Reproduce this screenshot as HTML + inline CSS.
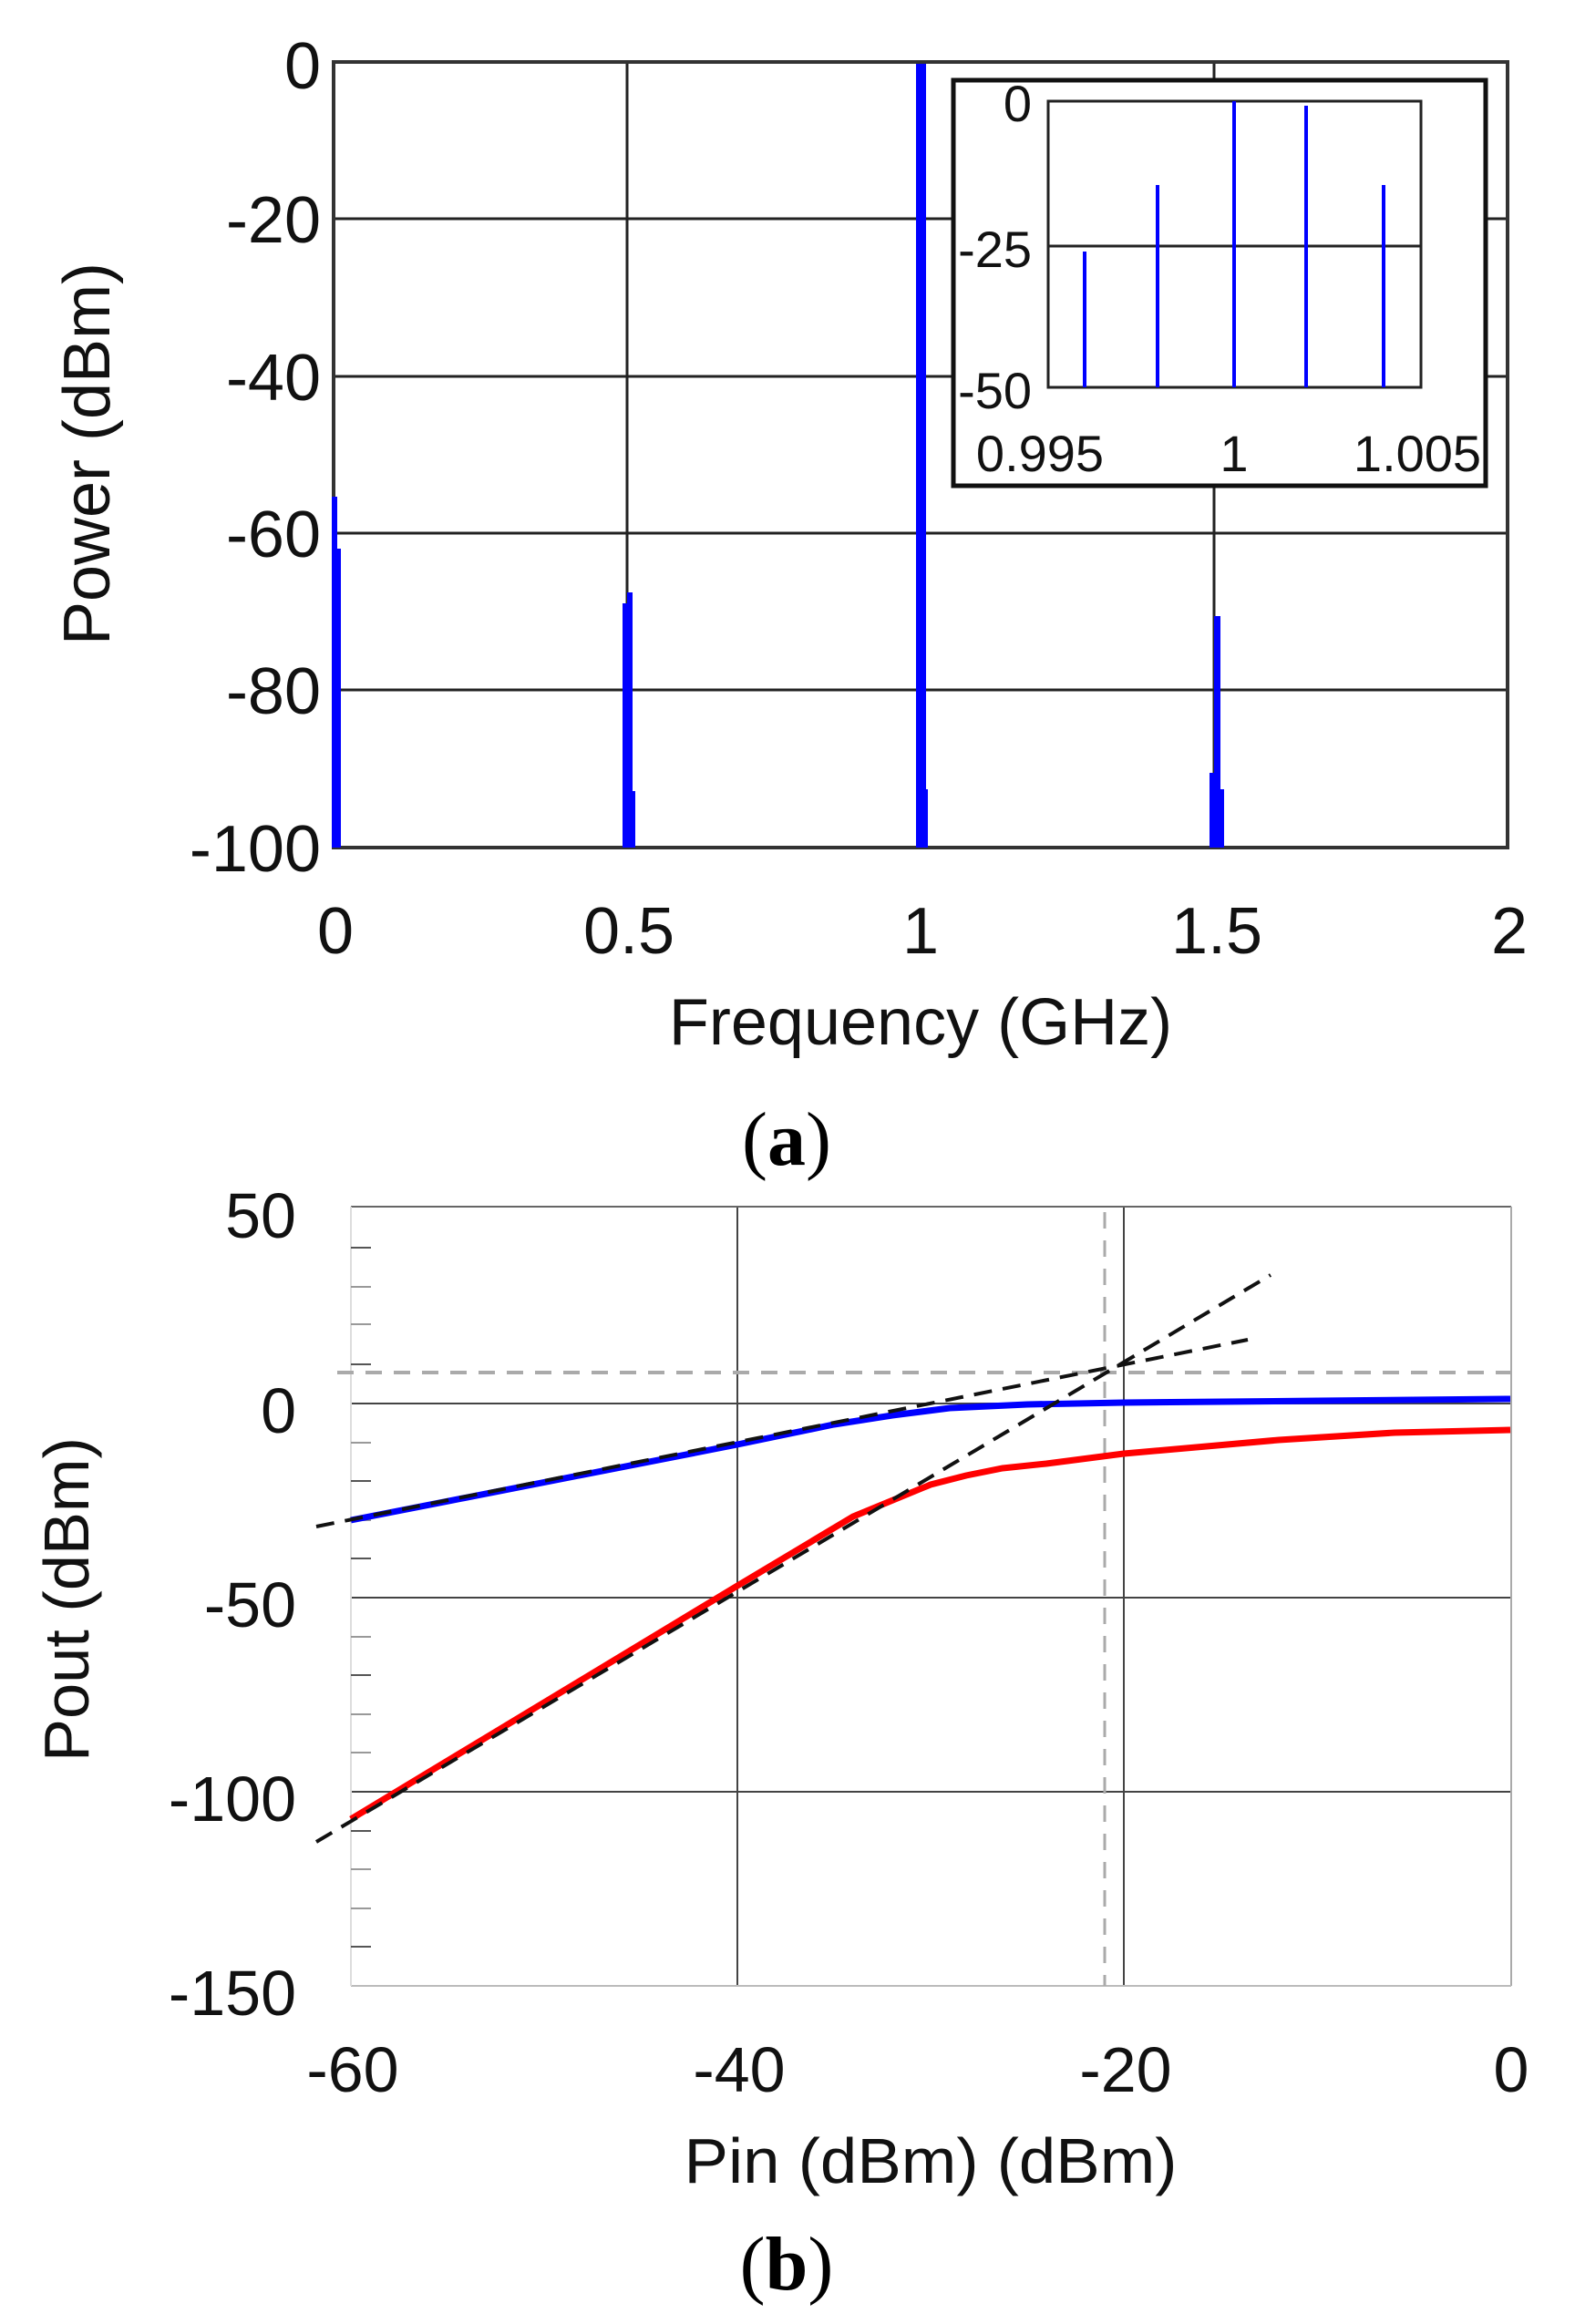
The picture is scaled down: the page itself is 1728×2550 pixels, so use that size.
<!DOCTYPE html>
<html><head><meta charset="utf-8"><style>html,body{margin:0;padding:0;background:#fff}svg{display:block}</style></head>
<body>
<svg width="1728" height="2550" viewBox="0 0 1728 2550" xmlns="http://www.w3.org/2000/svg" font-family="Liberation Sans, Arial, sans-serif">
<rect width="1728" height="2550" fill="#fff"/>
<!-- ===== Plot (a) ===== -->
<g stroke="#222" stroke-width="3" fill="none">
<line x1="688" y1="68" x2="688" y2="930"/>
<line x1="1010" y1="68" x2="1010" y2="930"/>
<line x1="1332" y1="68" x2="1332" y2="930"/>
<line x1="366" y1="240" x2="1654" y2="240"/>
<line x1="366" y1="413" x2="1654" y2="413"/>
<line x1="366" y1="585" x2="1654" y2="585"/>
<line x1="366" y1="757" x2="1654" y2="757"/>
</g>
<rect x="366" y="68" width="1288" height="862" fill="none" stroke="#333" stroke-width="4"/>
<g fill="#0000ff">
<rect x="364" y="545" width="6" height="385"/>
<rect x="368" y="602" width="6" height="328"/>
<rect x="683" y="662" width="7" height="268"/>
<rect x="688" y="650" width="6" height="280"/>
<rect x="690" y="868" width="7" height="62"/>
<rect x="1005" y="70" width="11" height="860"/>
<rect x="1012" y="866" width="6" height="64"/>
<rect x="1327" y="848" width="6" height="82"/>
<rect x="1332" y="676" width="7" height="254"/>
<rect x="1336" y="866" width="7" height="64"/>
</g>
<g font-size="72" fill="#111" text-anchor="end">
<text x="352" y="97">0</text>
<text x="352" y="266">-20</text>
<text x="352" y="439">-40</text>
<text x="352" y="611">-60</text>
<text x="352" y="783">-80</text>
<text x="352" y="956">-100</text>
</g>
<g font-size="72" fill="#111" text-anchor="middle">
<text x="368" y="1046">0</text>
<text x="690" y="1046">0.5</text>
<text x="1010" y="1046">1</text>
<text x="1335" y="1046">1.5</text>
<text x="1656" y="1046">2</text>
<text x="1010" y="1146">Frequency (GHz)</text>
<text transform="translate(120,498) rotate(-90)">Power (dBm)</text>
</g>
<!-- inset -->
<rect x="1046" y="88" width="584" height="445" fill="#fff" stroke="#111" stroke-width="5"/>
<line x1="1150" y1="270" x2="1559" y2="270" stroke="#222" stroke-width="3"/>
<rect x="1150" y="111" width="409" height="314" fill="none" stroke="#222" stroke-width="3"/>
<g stroke="#0000ff" stroke-width="4">
<line x1="1190" y1="276" x2="1190" y2="425"/>
<line x1="1270" y1="203" x2="1270" y2="425"/>
<line x1="1354" y1="111" x2="1354" y2="425"/>
<line x1="1433" y1="116" x2="1433" y2="425"/>
<line x1="1518" y1="203" x2="1518" y2="425"/>
</g>
<g font-size="56" fill="#111" text-anchor="end">
<text x="1132" y="133">0</text>
<text x="1132" y="293">-25</text>
<text x="1132" y="448">-50</text>
</g>
<g font-size="56" fill="#111" text-anchor="middle">
<text x="1141" y="517">0.995</text>
<text x="1354" y="517">1</text>
<text x="1555" y="517">1.005</text>
</g>
<text x="863" y="1278" font-family="Liberation Serif, serif" font-size="84" text-anchor="middle" fill="#000">(<tspan font-weight="bold">a</tspan>)</text>

<!-- ===== Plot (b) ===== -->
<g stroke="#444" stroke-width="2" fill="none">
<line x1="809" y1="1324" x2="809" y2="2179"/>
<line x1="1233" y1="1324" x2="1233" y2="2179"/>
<line x1="385" y1="1540" x2="1658" y2="1540"/>
<line x1="385" y1="1753" x2="1658" y2="1753"/>
<line x1="385" y1="1966" x2="1658" y2="1966"/>
</g>
<line x1="385" y1="1324" x2="1658" y2="1324" stroke="#666" stroke-width="2"/>
<line x1="1658" y1="1324" x2="1658" y2="2179" stroke="#aaa" stroke-width="2"/>
<line x1="385" y1="2179" x2="1658" y2="2179" stroke="#bbb" stroke-width="2"/>
<line x1="385" y1="1324" x2="385" y2="2179" stroke="#ddd" stroke-width="2"/>
<g stroke="#999" stroke-width="2">
<line x1="385" y1="1369" x2="407" y2="1369" stroke="#555"/>
<line x1="385" y1="1412" x2="407" y2="1412"/>
<line x1="385" y1="1453" x2="407" y2="1453"/>
<line x1="385" y1="1497" x2="407" y2="1497" stroke="#555"/>
<line x1="385" y1="1583" x2="407" y2="1583"/>
<line x1="385" y1="1625" x2="407" y2="1625" stroke="#555"/>
<line x1="385" y1="1668" x2="407" y2="1668"/>
<line x1="385" y1="1710" x2="407" y2="1710" stroke="#555"/>
<line x1="385" y1="1796" x2="407" y2="1796"/>
<line x1="385" y1="1838" x2="407" y2="1838" stroke="#555"/>
<line x1="385" y1="1881" x2="407" y2="1881"/>
<line x1="385" y1="1923" x2="407" y2="1923"/>
<line x1="385" y1="2009" x2="407" y2="2009" stroke="#555"/>
<line x1="385" y1="2051" x2="407" y2="2051"/>
<line x1="385" y1="2094" x2="407" y2="2094"/>
<line x1="385" y1="2136" x2="407" y2="2136" stroke="#555"/>
</g>
<line x1="370" y1="1506" x2="1658" y2="1506" stroke="#aaa" stroke-width="4" stroke-dasharray="18,13"/>
<line x1="1212" y1="1330" x2="1212" y2="2179" stroke="#aaa" stroke-width="3" stroke-dasharray="18,13"/>
<polyline fill="none" stroke="#0000ff" stroke-width="7" points="385,1668 809,1585 915,1563 979,1553 1042,1545 1127,1541 1233,1539 1445,1537 1657,1535"/>
<polyline fill="none" stroke="#ff0000" stroke-width="7" points="385,1996 809,1740 936,1664 1021,1629 1060,1619 1100,1611 1148,1606 1233,1595 1403,1580 1530,1572 1657,1569"/>
<g stroke="#111" stroke-width="4" stroke-dasharray="20,12" fill="none">
<line x1="347" y1="1675" x2="1369" y2="1470"/>
<line x1="347" y1="2021" x2="1394" y2="1399"/>
</g>
<g font-size="70" fill="#111" text-anchor="end">
<text x="325" y="1358">50</text>
<text x="325" y="1572">0</text>
<text x="325" y="1785">-50</text>
<text x="325" y="1998">-100</text>
<text x="325" y="2211">-150</text>
</g>
<g font-size="70" fill="#111" text-anchor="middle">
<text x="387" y="2295">-60</text>
<text x="811" y="2295">-40</text>
<text x="1235" y="2295">-20</text>
<text x="1658" y="2295">0</text>
<text x="1021" y="2395" textLength="541" lengthAdjust="spacingAndGlyphs">Pin (dBm) (dBm)</text>
<text transform="translate(97,1755) rotate(-90)" textLength="356" lengthAdjust="spacingAndGlyphs">Pout (dBm)</text>
</g>
<text x="863" y="2512" font-family="Liberation Serif, serif" font-size="84" text-anchor="middle" fill="#000">(<tspan font-weight="bold">b</tspan>)</text>
</svg>
</body></html>
